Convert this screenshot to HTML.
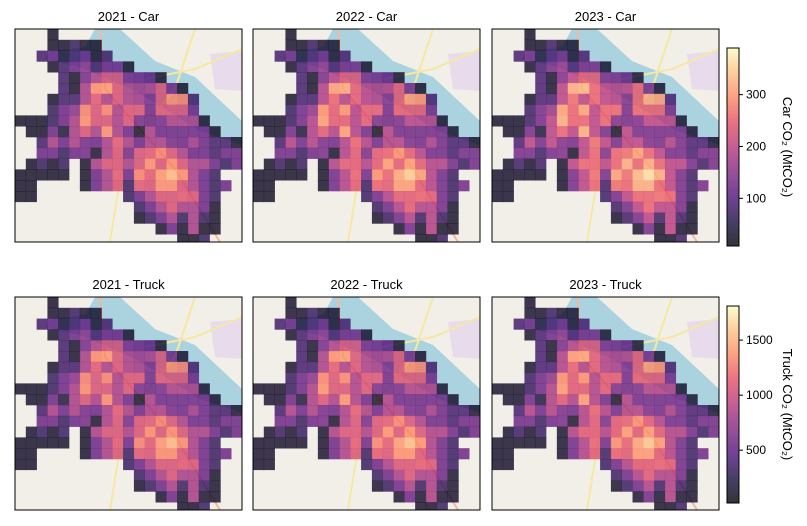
<!DOCTYPE html>
<html><head><meta charset="utf-8"><style>
body{margin:0;background:#fff;}
svg{display:block;font-family:"Liberation Sans","DejaVu Sans",sans-serif;}
</style></head><body>
<svg id="fig" width="807" height="526" viewBox="0 0 807 526" xmlns="http://www.w3.org/2000/svg">
<defs>
<linearGradient id="magma" x1="0" y1="1" x2="0" y2="0">
<stop offset="0" stop-color="#000004"/><stop offset="0.13" stop-color="#1c1044"/>
<stop offset="0.25" stop-color="#4f127b"/><stop offset="0.38" stop-color="#812581"/>
<stop offset="0.5" stop-color="#b5367a"/><stop offset="0.63" stop-color="#e55064"/>
<stop offset="0.75" stop-color="#fb8761"/><stop offset="0.88" stop-color="#fec287"/>
<stop offset="1" stop-color="#fcfdbf"/>
</linearGradient>
</defs>
</svg>
<script>
// Base spatial grid (Car CO2, 2021), rows top->bottom, 21 columns; 0 = no data
const row0=[0,0,0,30,0,0,0,0,0,0,0,0,0,0,0,0,0,0,0,0,0];
const row1=[0,0,0,30,30,70,30,30,0,0,0,0,0,0,0,0,0,0,0,0,0];
const row2=[0,0,80,120,40,80,110,30,80,0,0,0,0,0,0,0,0,0,0,0,0];
const row3=[0,0,0,30,80,120,150,80,120,120,30,0,0,0,0,0,0,0,0,0,0];
const row4=[0,0,0,0,80,30,130,180,220,220,130,120,100,30,0,0,0,0,0,0,0];
const row5=[0,0,0,0,80,30,180,290,300,230,180,170,180,230,120,30,0,0,0,0,0];
const row6=[0,0,0,30,80,80,180,240,180,230,180,170,130,230,290,280,80,0,0,0,0];
const row7=[0,0,0,70,120,150,280,230,280,180,230,230,120,230,230,230,120,0,0,0,0];
const row8=[30,30,30,70,120,180,290,230,230,180,230,130,120,130,180,180,180,30,0,0,0];
const row9=[0,30,30,120,40,180,230,180,290,180,120,30,180,120,120,120,120,120,30,0,0];
const row10=[0,0,80,180,120,180,130,120,180,240,180,120,180,180,130,120,170,120,80,80,30];
const row11=[0,0,120,120,70,120,130,30,180,230,130,230,240,280,230,180,120,120,80,120,120];
const row12=[0,30,70,30,70,0,30,180,230,230,180,230,290,230,290,230,180,180,120,70,120];
const row13=[30,30,30,30,30,0,30,120,180,240,120,280,240,300,330,290,180,120,70,0,0];
const row14=[30,30,0,0,0,0,30,120,180,230,70,240,230,290,290,230,180,120,70,120,0];
const row15=[30,30,0,0,0,0,0,0,0,0,70,120,180,230,230,240,230,120,70,0,0];
const row16=[0,0,0,0,0,0,0,0,0,0,0,70,120,180,230,180,180,120,30,0,0];
const row17=[0,0,0,0,0,0,0,0,0,0,0,30,70,120,180,70,180,70,30,0,0];
const row18=[0,0,0,0,0,0,0,0,0,0,0,0,0,30,120,30,180,30,30,0,0];
const row19=[0,0,0,0,0,0,0,0,0,0,0,0,0,0,0,30,30,70,0,0,0];
const grid=[row0,row1,row2,row3,row4,row5,row6,row7,row8,row9,row10,row11,row12,row13,row14,row15,row16,row17,row18,row19];
const years=["2021","2022","2023"];
const carScale=[1.0,1.05,1.1];
const truckScale=[4.6,4.7,4.8];
const carTicks=[100,200,300];
const truckTicks=[500,1000,1500];
const carRange=[8,390];
const truckRange=[20,1810];

const NS="http://www.w3.org/2000/svg";
const svg=document.getElementById('fig');
function mk(tag,attrs,parent){const e=document.createElementNS(NS,tag);for(const k in attrs)e.setAttribute(k,attrs[k]);(parent||svg).appendChild(e);return e;}
const stops=[[0,[0,0,4]],[0.13,[28,16,68]],[0.25,[79,18,123]],[0.38,[129,37,129]],[0.5,[181,54,122]],[0.63,[229,80,100]],[0.75,[251,135,97]],[0.88,[254,194,135]],[1,[252,253,191]]];
function magma(t){t=Math.max(0,Math.min(1,t));for(let i=1;i<stops.length;i++){if(t<=stops[i][0]){const a=stops[i-1],b=stops[i];const f=(t-a[0])/(b[0]-a[0]);const c=a[1].map((v,j)=>Math.round(v+(b[1][j]-v)*f));return `rgb(${c})`;}}return 'rgb(252,253,191)';}

const colX=[15,253,492], rowY=[29,297], PW=227, PH=213;
const cw=PW/21, ch=10.8;
function panel(px,py,title,scale,range,name){
  const g=mk('g',{});
  
  
  const cid='clip-'+name;
  const cp=mk('clipPath',{id:cid},g);mk('rect',{x:px,y:py,width:PW,height:PH},cp);
  const inner=mk('g',{'clip-path':`url(#${cid})`},g);
  mk('rect',{x:px,y:py,width:PW,height:PH,fill:'#f2efe9'},inner);
  const pt=a=>a.map(p=>(px+p[0])+','+(py+p[1])).join(' ');
  mk('polygon',{points:pt([[195,25],[227,22],[227,62],[200,60]]),fill:'#e8dcec'},inner);
  mk('polygon',{points:pt([[80,0],[105,0],[140,32],[180,48],[227,92],[227,116],[185,102],[150,80],[120,62],[65,38],[30,30],[35,22],[70,18]]),fill:'#aad3df'},inner);
  mk('polyline',{points:pt([[85,0],[90,60],[160,140],[205,213]]),fill:'none',stroke:'#f4b89a',"stroke-width":2},inner);
  mk('polyline',{points:pt([[180,0],[160,60],[110,120],[95,213]]),fill:'none',stroke:'#f6e8a0',"stroke-width":2},inner);
  mk('polyline',{points:pt([[227,20],[180,40],[130,50]]),fill:'none',stroke:'#f6e8a0',"stroke-width":2},inner);
  grid.forEach((r,i)=>r.forEach((v,j)=>{
    if(!v)return;
    const val=v*scale;
    const c=mk('rect',{x:(px+j*cw).toFixed(2),y:(py+i*ch).toFixed(2),width:(cw+0.3).toFixed(2),height:(ch+0.3).toFixed(2),fill:magma((val-range[0])/(range[1]-range[0])),'fill-opacity':0.8},inner);
    
    
  }));
  mk('rect',{x:px,y:py,width:PW,height:PH,fill:'none',stroke:'#000','stroke-width':1},g);
  const t=mk('text',{x:px+PW/2,y:py-8,'text-anchor':'middle','font-size':13,fill:'#000'},g);
  t.textContent=title;
  
  
}
years.forEach((y,i)=>panel(colX[i],rowY[0],y+' - Car',carScale[i],carRange,'car-map-'+y));
years.forEach((y,i)=>panel(colX[i],rowY[1],y+' - Truck',truckScale[i],truckRange,'truck-map-'+y));

function colorbar(y0,y1,range,ticks,label,name){
  const g=mk('g',{});
  
  
  mk('rect',{x:727,y:y0,width:12,height:y1-y0,fill:'#fff'},g);
  mk('rect',{x:727,y:y0,width:12,height:y1-y0,fill:'url(#magma)','fill-opacity':0.8},g);
  mk('rect',{x:727,y:y0,width:12,height:y1-y0,fill:'none',stroke:'#000','stroke-width':1},g);
  ticks.forEach(v=>{
    const yy=y1-(v-range[0])/(range[1]-range[0])*(y1-y0);
    mk('line',{x1:739,x2:743,y1:yy,y2:yy,stroke:'#000'},g);
    const t=mk('text',{x:746,y:yy+4,'font-size':12,fill:'#000'},g);
    t.textContent=v;
    
    
  });
  const cy=(y0+y1)/2;
  const t=mk('text',{x:783,y:cy,'font-size':13,'text-anchor':'middle',transform:`rotate(90 783 ${cy})`,fill:'#000'},g);
  t.textContent=label;
  
  
}
colorbar(48,246,carRange,carTicks,'Car CO₂ (MtCO₂)','car-colorbar');
colorbar(306,503,truckRange,truckTicks,'Truck CO₂ (MtCO₂)','truck-colorbar');
</script>
</body></html>
